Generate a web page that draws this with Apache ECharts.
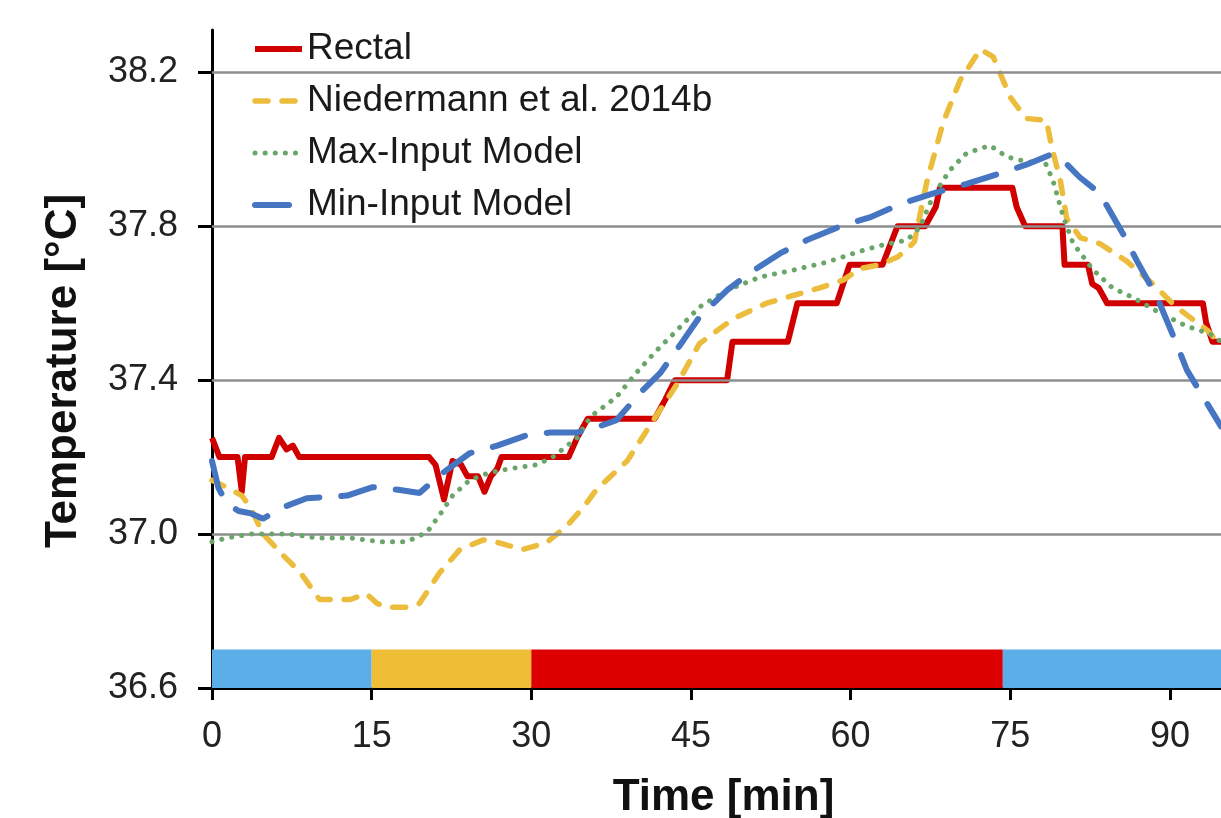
<!DOCTYPE html>
<html>
<head>
<meta charset="utf-8">
<script src="https://cdn.jsdelivr.net/npm/echarts@6/dist/echarts.min.js"></script>
<style>
html,body{margin:0;padding:0;background:#fff;}
#c{width:1221px;height:818px;}
</style>
</head>
<body>
<div id="c"></div>
<script>
// ---- data (time [min], temperature [°C]) ----
const rectal = [[0,37.25],[0.7,37.2],[2.4,37.2],[2.8,37.11],[3.1,37.2],[5.6,37.2],[6.3,37.25],[7.0,37.22],[7.6,37.23],[8.2,37.2],[20.4,37.2],[21.0,37.18],[21.8,37.09],[22.6,37.19],[23.4,37.18],[24.0,37.15],[25.0,37.15],[25.6,37.11],[26.2,37.15],[26.8,37.17],[27.2,37.2],[33.5,37.2],[34.3,37.25],[35.3,37.3],[41.6,37.3],[42.6,37.35],[43.5,37.4],[48.4,37.4],[48.9,37.5],[54.1,37.5],[55.0,37.6],[58.7,37.6],[59.9,37.7],[63.0,37.7],[64.4,37.8],[67.0,37.8],[68.0,37.85],[68.4,37.9],[75.2,37.9],[75.6,37.85],[76.4,37.8],[79.9,37.8],[80.1,37.7],[82.3,37.7],[82.7,37.65],[83.3,37.64],[84.1,37.6],[93.1,37.6],[93.4,37.55],[94.0,37.5],[94.8,37.5]];
const niedermann = [[0,37.14],[1.5,37.12],[2.8,37.1],[3.6,37.07],[4.8,37.0],[6.5,36.95],[8.3,36.9],[10.1,36.83],[13,36.83],[14.5,36.845],[15.5,36.82],[16.4,36.81],[18.3,36.81],[19.5,36.82],[21.4,36.9],[23.3,36.96],[25.5,36.985],[27,36.977],[29.2,36.96],[31.4,36.977],[33.3,37.02],[34.9,37.07],[36.1,37.115],[39,37.19],[41.8,37.31],[43.7,37.39],[45.8,37.495],[49,37.56],[52.1,37.6],[54.6,37.62],[57.1,37.64],[59.3,37.66],[60.9,37.69],[62.8,37.70],[64.4,37.72],[65.3,37.74],[66.0,37.76],[66.6,37.84],[67.2,37.92],[68.7,38.07],[70.3,38.18],[72.2,38.26],[73.4,38.24],[75,38.135],[76.5,38.08],[78.4,38.075],[78.9,38.005],[79.7,37.92],[80.3,37.82],[81.6,37.77],[83.4,37.755],[85.9,37.71],[88.4,37.65],[90.6,37.59],[93.5,37.53],[94.8,37.49]];
const maxInput = [[0,36.98],[1.4,36.99],[3.6,37.0],[7.3,37.0],[9.9,36.99],[13,36.99],[15.8,36.98],[18.3,36.98],[20.2,37.005],[21.4,37.05],[22.6,37.1],[24.2,37.14],[26.1,37.16],[28,37.17],[30.5,37.18],[32,37.2],[34.3,37.25],[35.2,37.29],[35.8,37.31],[38,37.356],[39.9,37.42],[41.8,37.478],[43.7,37.53],[45.8,37.59],[48.4,37.634],[51.5,37.668],[54.6,37.686],[57.8,37.707],[60.9,37.735],[62.8,37.75],[65.3,37.764],[66.5,37.797],[67.7,37.875],[69.3,37.945],[70.9,37.99],[73.1,38.01],[74.7,37.98],[76.8,37.966],[78.1,37.977],[79,37.92],[80,37.823],[80.9,37.756],[82.8,37.686],[84.6,37.64],[86.5,37.615],[89.1,37.574],[91.6,37.54],[93.8,37.52],[94.8,37.5]];
const minInput = [[0,37.19],[0.6,37.12],[1.4,37.08],[2.5,37.06],[3.6,37.054],[4.8,37.04],[6.7,37.07],[8.9,37.093],[12.7,37.10],[15.1,37.122],[17.5,37.115],[19.5,37.107],[21.4,37.153],[24.2,37.21],[26.8,37.23],[29.6,37.257],[31.8,37.264],[34.3,37.264],[36.2,37.278],[38,37.296],[40.2,37.366],[42.1,37.418],[44.3,37.504],[45.8,37.564],[48.4,37.634],[50.5,37.678],[53.4,37.73],[55.9,37.764],[59.3,37.803],[61.8,37.823],[64.9,37.86],[67.7,37.885],[70.9,37.91],[74,37.937],[76.5,37.96],[78.7,37.985],[80,37.97],[81.5,37.928],[83.4,37.886],[85.6,37.78],[86.9,37.71],[88.8,37.615],[90.6,37.496],[91.6,37.426],[94.8,37.28]];

const seriesNames = ['Rectal','Niedermann et al. 2014b','Max-Input Model','Min-Input Model'];
const xTicks = [0,15,30,45,60,75,90];
const yTicks = [36.6,37.0,37.4,37.8,38.2];
const gridValues = [37.0,37.4,37.8,38.2];
// exercise phases along the bottom
const phaseStart = [0,15,30,74.3];
const phaseEnd = [15,30,74.3,94.8];
const phaseColor = ['#5baee8','#efbd36','#dc0000','#5baee8'];
const phaseBottom = 36.6, phaseTop = 36.7;

const FONT = "'Liberation Sans', Arial, Helvetica, sans-serif";
const chart = echarts.init(document.getElementById('c'), null, {renderer:'canvas'});

const phaseAreas = phaseStart.map((s,i)=>[
  {xAxis:s, yAxis:phaseBottom, itemStyle:{color:phaseColor[i], opacity:1}},
  {xAxis:phaseEnd[i], yAxis:phaseTop}
]);

chart.setOption({
  animation:false,
  backgroundColor:'#fff',
  grid:{left:212, right:0, top:30, bottom:130, containLabel:false, outerBoundsMode:'none'},
  legend:{
    data:seriesNames,
    orient:'vertical',
    left:252, top:28, padding:0,
    itemWidth:47, itemHeight:1, itemGap:10,
    itemStyle:{opacity:0},
    lineStyle:{width:'inherit'},
    textStyle:{fontFamily:FONT, fontSize:37, color:'#1a1a1a', lineHeight:42},
    selectedMode:false
  },
  xAxis:{
    type:'value', min:0, max:94.8,
    name:'Time [min]', nameLocation:'middle', nameGap:88,
    nameTextStyle:{fontFamily:FONT, fontSize:44, fontWeight:'bold', color:'#111', padding:[0,0,0,14]},
    axisLine:{show:true, onZero:false, lineStyle:{color:'#000', width:3}},
    axisTick:{show:true, length:12, lineStyle:{color:'#000', width:3}, customValues:xTicks},
    axisLabel:{fontFamily:FONT, fontSize:36, color:'#222', margin:31, customValues:xTicks},
    splitLine:{show:false}
  },
  yAxis:{
    type:'value', min:36.6, max:38.31,
    name:'Temperature [°C]', nameLocation:'middle', nameGap:126, nameRotate:90,
    nameTextStyle:{fontFamily:FONT, fontSize:44, fontWeight:'bold', color:'#111', padding:[0,24,0,0]},
    axisLine:{show:true, onZero:false, lineStyle:{color:'#000', width:3}},
    axisTick:{show:true, length:14, lineStyle:{color:'#000', width:3}, customValues:yTicks},
    axisLabel:{fontFamily:FONT, fontSize:36, color:'#222', margin:34, customValues:yTicks,
      formatter:v=>Number(v).toFixed(1)},
    splitLine:{show:false}
  },
  series:[
    {
      name:'_background', type:'line', data:[[0,36.6]], symbol:'none', silent:true, z:1,
      lineStyle:{width:0},
      markLine:{silent:true, symbol:'none', label:{show:false},
        lineStyle:{color:'#8e8e8e', width:2.5, type:'solid'},
        data:gridValues.map(v=>({yAxis:v}))},
      markArea:{silent:true, label:{show:false}, data:phaseAreas}
    },
    {name:seriesNames[0], type:'line', data:rectal, symbol:'none', z:3,
      color:'#d00000',
      lineStyle:{color:'#d00000', width:6, join:'round'}},
    {name:seriesNames[1], type:'line', data:niedermann, symbol:'none', z:4,
      color:'#ecbd3c',
      lineStyle:{color:'#ecbd3c', width:5.5, type:[13,14], cap:'round'}},
    {name:seriesNames[2], type:'line', data:maxInput, symbol:'none', z:5,
      color:'#6aa56a',
      lineStyle:{color:'#6aa56a', width:5, type:[0.1,10], cap:'round'}},
    {name:seriesNames[3], type:'line', data:minInput, symbol:'none', z:6,
      color:'#4675c2',
      lineStyle:{color:'#4675c2', width:6, type:[34,22], cap:'round'}}
  ]
});
</script>
</body>
</html>
